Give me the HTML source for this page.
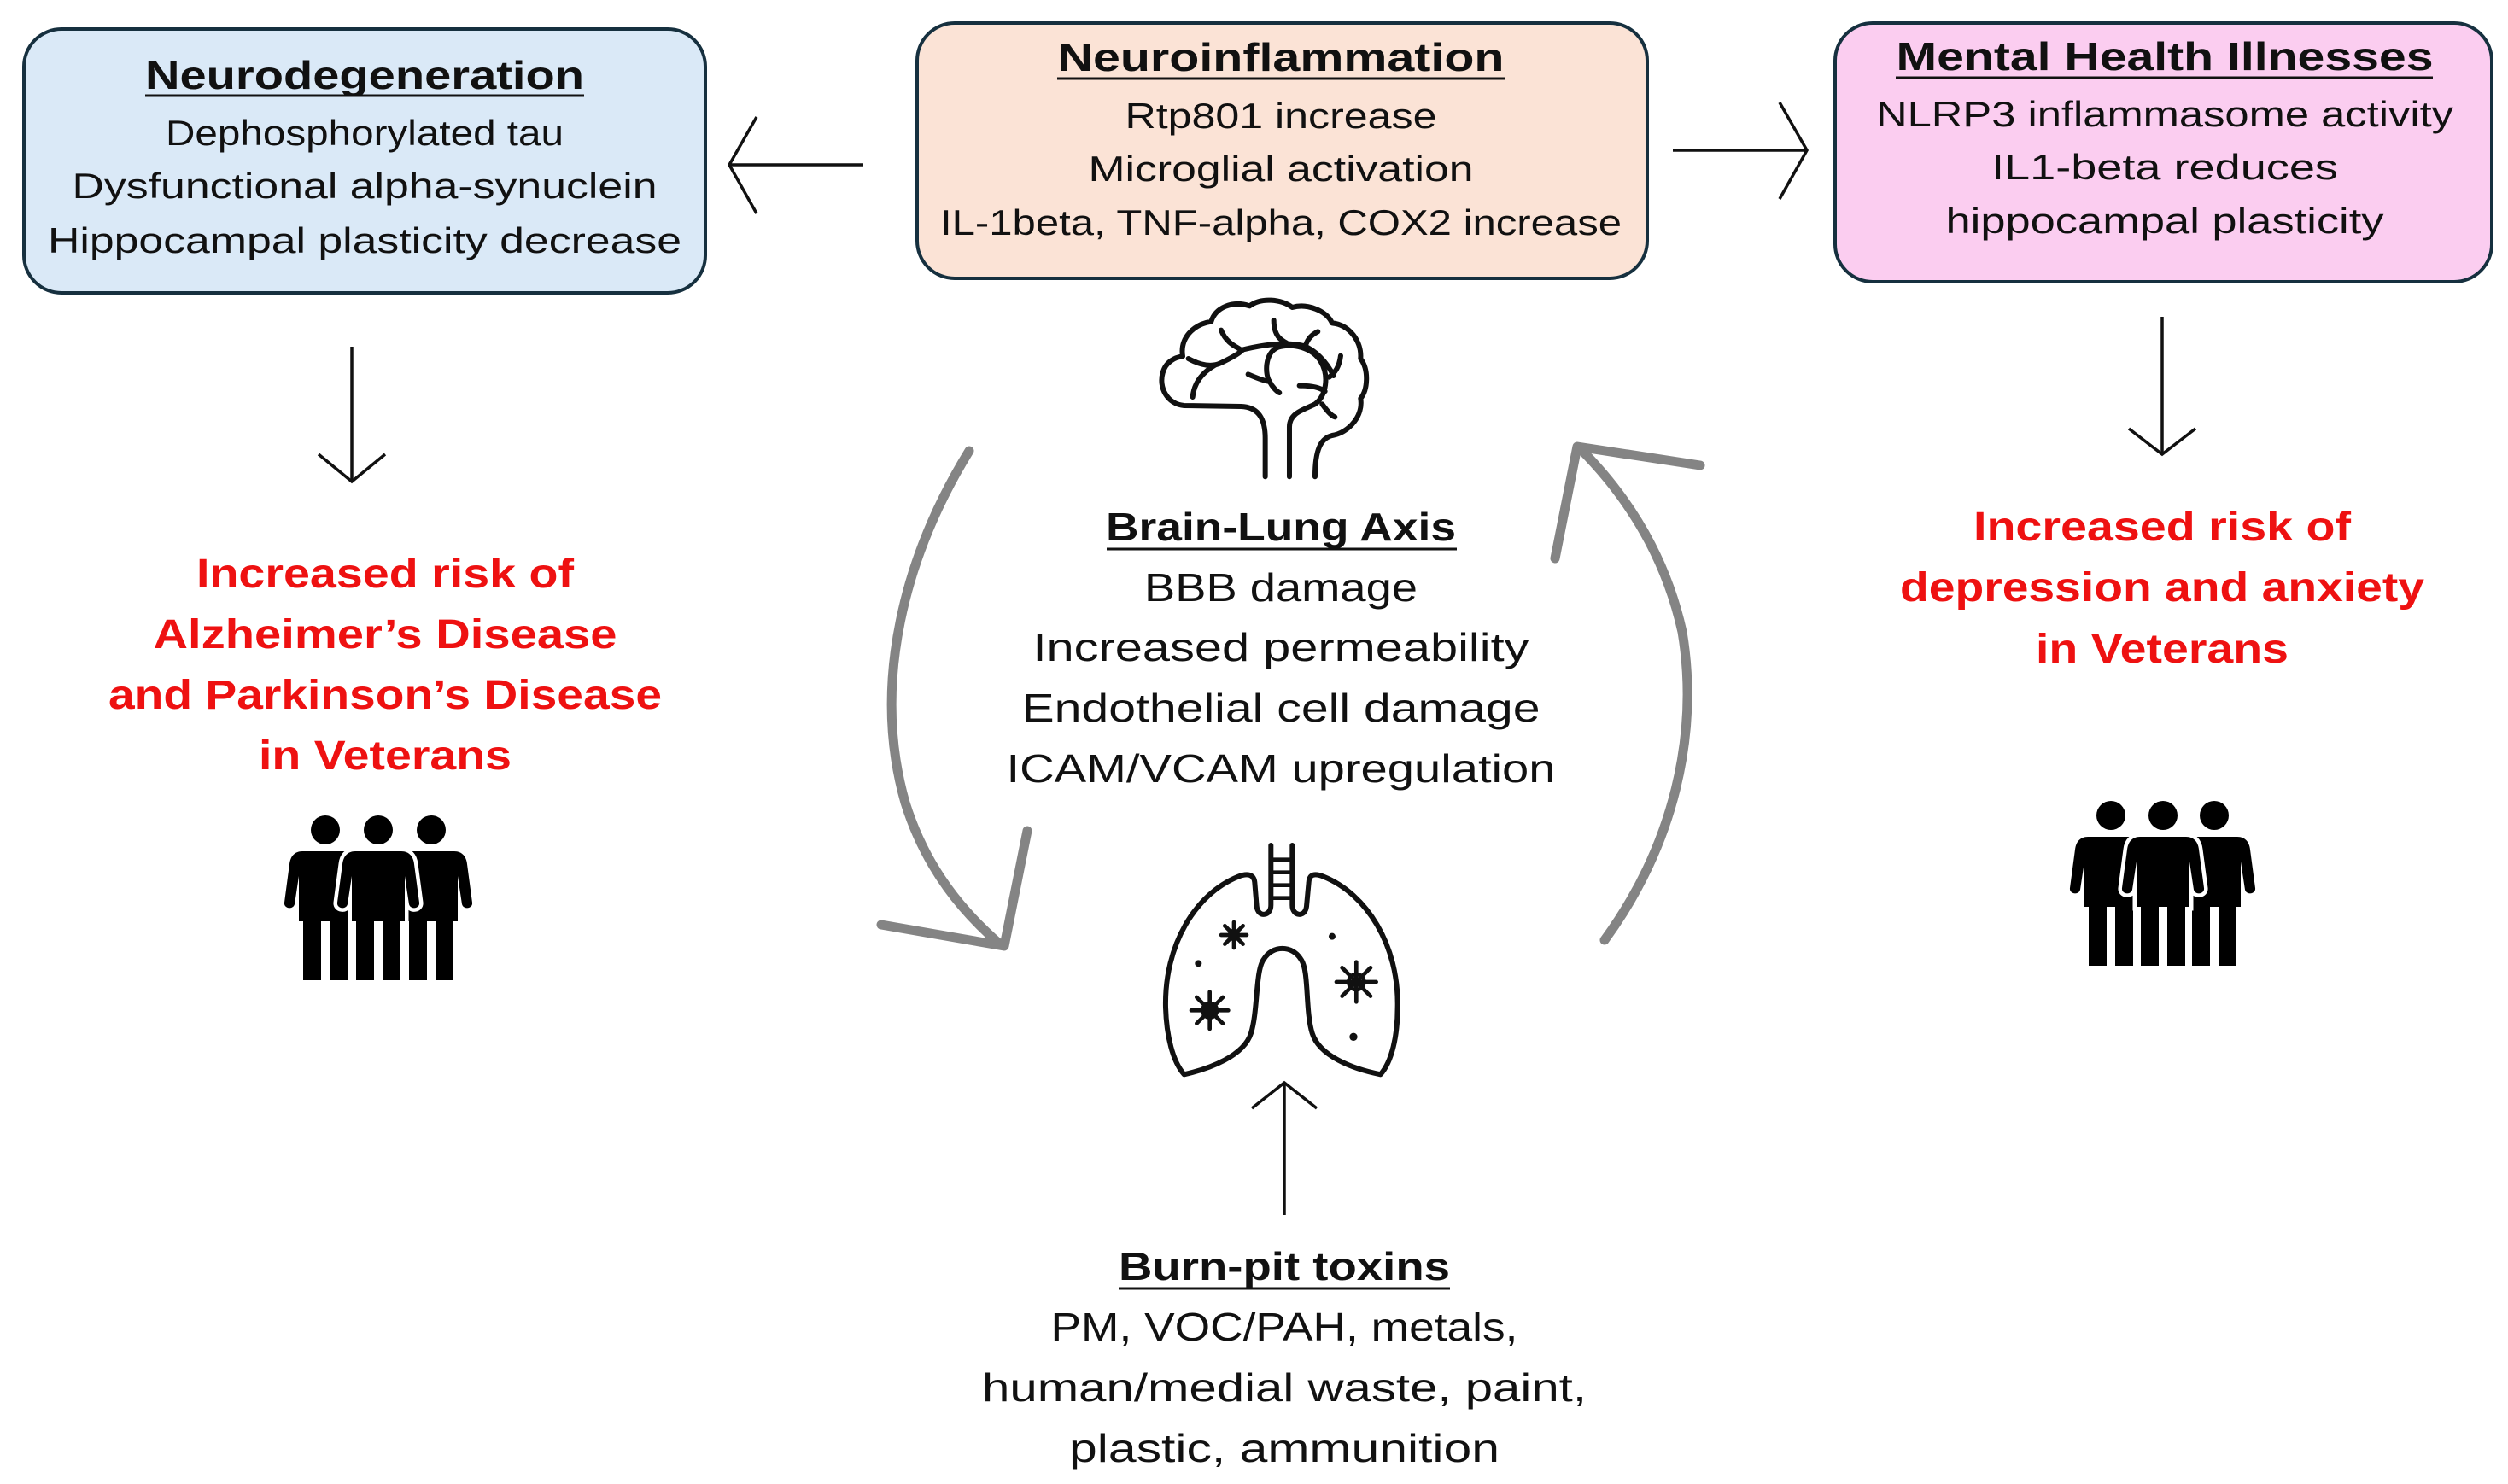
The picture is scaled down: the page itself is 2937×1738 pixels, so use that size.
<!DOCTYPE html>
<html><head><meta charset="utf-8"><style>html,body{margin:0;padding:0;background:#fff}svg{display:block}</style></head>
<body>
<svg width="2937" height="1738" viewBox="0 0 2937 1738" xmlns="http://www.w3.org/2000/svg" font-family="Liberation Sans, sans-serif">
<rect width="2937" height="1738" fill="#fff"/>
<!-- boxes -->
<rect x="28" y="34" width="798" height="309" rx="44" fill="#dae9f7" stroke="#16303f" stroke-width="4"/>
<rect x="1074" y="27" width="855" height="299" rx="44" fill="#fbe3d6" stroke="#16303f" stroke-width="4"/>
<rect x="2149" y="27" width="769" height="303" rx="44" fill="#fbcdf0" stroke="#16303f" stroke-width="4"/>

<g fill="#111" text-anchor="middle">
<text x="427" y="104" font-size="46" font-weight="bold" textLength="514" lengthAdjust="spacingAndGlyphs">Neurodegeneration</text>
<line x1="170" y1="112" x2="684" y2="112" stroke="#111" stroke-width="3"/>
<text x="427" y="170" font-size="42" textLength="466" lengthAdjust="spacingAndGlyphs">Dephosphorylated tau</text>
<text x="427" y="232" font-size="42" textLength="685" lengthAdjust="spacingAndGlyphs">Dysfunctional alpha-synuclein</text>
<text x="427" y="296" font-size="42" textLength="742" lengthAdjust="spacingAndGlyphs">Hippocampal plasticity decrease</text>

<text x="1500" y="83" font-size="46" font-weight="bold" textLength="523" lengthAdjust="spacingAndGlyphs">Neuroinflammation</text>
<line x1="1238" y1="92" x2="1762" y2="92" stroke="#111" stroke-width="3"/>
<text x="1500" y="150" font-size="42" textLength="365" lengthAdjust="spacingAndGlyphs">Rtp801 increase</text>
<text x="1500" y="212" font-size="42" textLength="451" lengthAdjust="spacingAndGlyphs">Microglial activation</text>
<text x="1500" y="275" font-size="42" textLength="798" lengthAdjust="spacingAndGlyphs">IL-1beta, TNF-alpha, COX2 increase</text>

<text x="2535" y="82" font-size="46" font-weight="bold" textLength="629" lengthAdjust="spacingAndGlyphs">Mental Health Illnesses</text>
<line x1="2220" y1="91" x2="2849" y2="91" stroke="#111" stroke-width="3"/>
<text x="2535" y="148" font-size="42" textLength="676" lengthAdjust="spacingAndGlyphs">NLRP3 inflammasome activity</text>
<text x="2535" y="210" font-size="42" textLength="406" lengthAdjust="spacingAndGlyphs">IL1-beta reduces</text>
<text x="2535" y="273" font-size="42" textLength="513" lengthAdjust="spacingAndGlyphs">hippocampal plasticity</text>

<text x="1500" y="633" font-size="46" font-weight="bold" textLength="410" lengthAdjust="spacingAndGlyphs">Brain-Lung Axis</text>
<line x1="1296" y1="643" x2="1706" y2="643" stroke="#111" stroke-width="3"/>
<text x="1500" y="704" font-size="46" textLength="320" lengthAdjust="spacingAndGlyphs">BBB damage</text>
<text x="1500" y="774" font-size="46" textLength="581" lengthAdjust="spacingAndGlyphs">Increased permeability</text>
<text x="1500" y="845" font-size="46" textLength="607" lengthAdjust="spacingAndGlyphs">Endothelial cell damage</text>
<text x="1500" y="916" font-size="46" textLength="643" lengthAdjust="spacingAndGlyphs">ICAM/VCAM upregulation</text>

<text x="1504" y="1499" font-size="46" font-weight="bold" textLength="388" lengthAdjust="spacingAndGlyphs">Burn-pit toxins</text>
<line x1="1310" y1="1509" x2="1698" y2="1509" stroke="#111" stroke-width="3"/>
<text x="1504" y="1570" font-size="46" textLength="547" lengthAdjust="spacingAndGlyphs">PM, VOC/PAH, metals,</text>
<text x="1504" y="1641" font-size="46" textLength="708" lengthAdjust="spacingAndGlyphs">human/medial waste, paint,</text>
<text x="1504" y="1712" font-size="46" textLength="504" lengthAdjust="spacingAndGlyphs">plastic, ammunition</text>
</g>
<g fill="#ee1111" text-anchor="middle" font-weight="bold" font-size="48">
<text x="451" y="688" textLength="442" lengthAdjust="spacingAndGlyphs">Increased risk of</text>
<text x="451" y="759" textLength="543" lengthAdjust="spacingAndGlyphs">Alzheimer’s Disease</text>
<text x="451" y="830" textLength="648" lengthAdjust="spacingAndGlyphs">and Parkinson’s Disease</text>
<text x="451" y="901" textLength="296" lengthAdjust="spacingAndGlyphs">in Veterans</text>
<text x="2532" y="633" textLength="442" lengthAdjust="spacingAndGlyphs">Increased risk of</text>
<text x="2532" y="704" textLength="614" lengthAdjust="spacingAndGlyphs">depression and anxiety</text>
<text x="2532" y="776" textLength="296" lengthAdjust="spacingAndGlyphs">in Veterans</text>
</g>

<!-- black arrows -->
<g stroke="#111" stroke-width="3.5" fill="none">
<line x1="1011" y1="193" x2="854" y2="193"/><polyline points="886,137 854,193 886,250"/>
<line x1="1959" y1="176" x2="2116" y2="176"/><polyline points="2084,120 2116,176 2084,233"/>
<line x1="412" y1="406" x2="412" y2="564"/><polyline points="373,532 412,564 451,532"/>
<line x1="2532" y1="371" x2="2532" y2="532"/><polyline points="2493,502 2532,532 2571,502"/>
<line x1="1504" y1="1423" x2="1504" y2="1268"/><polyline points="1466,1298 1504,1268 1542,1298"/>
</g>

<!-- gray cycle arrows -->
<g stroke="#848484" stroke-width="11" fill="none" stroke-linecap="round" stroke-linejoin="round">
<path d="M1135,528 C1060,650 1020,800 1060,940 C1085,1020 1130,1070 1170,1105"/>
<polyline points="1032,1083 1176,1108 1203,973"/>
<path d="M1879,1101 C1960,990 1990,860 1970,740 C1950,650 1905,580 1850,525"/>
<polyline points="1821,654 1847,523 1991,545"/>
</g>

<!-- brain -->
<g transform="translate(1340,340) scale(0.3333)" fill="none" stroke="#111" stroke-width="18" stroke-linecap="round" stroke-linejoin="round">
<path d="M425,655 V520 C425,450 400,410 340,408 L140,405 C80,400 50,340 65,290 C75,250 110,235 135,232 C125,170 170,120 235,110 C250,60 310,35 370,55 C410,25 480,30 520,60 C570,45 640,70 660,115 C720,120 765,180 760,240 C790,280 785,350 760,380 C770,440 720,500 660,510 C620,520 600,560 600,655"/>
<path d="M510,655 V480 C510,430 560,420 600,400 C640,370 650,300 620,250 C590,200 520,185 470,200 C420,220 425,300 440,320"/>
<path d="M270,140 C290,190 330,200 340,210 C420,190 500,180 560,195 C600,210 640,250 665,300"/>
<path d="M455,105 C455,160 480,175 500,185"/>
<path d="M610,145 C580,160 570,180 565,200"/>
<path d="M690,230 C685,270 670,290 650,305"/>
<path d="M155,240 C200,265 240,270 270,255 C300,240 330,225 345,210"/>
<path d="M170,375 C175,320 210,285 250,262"/>
<path d="M365,295 C400,310 430,320 440,320 C450,340 465,355 475,360"/>
<path d="M545,335 C580,335 615,340 635,355"/>
<path d="M625,400 C640,420 655,440 670,445"/>
</g>

<!-- lungs -->
<g transform="translate(1350,980) scale(0.3333)" fill="none" stroke="#111" stroke-width="18" stroke-linecap="round" stroke-linejoin="round">
<path d="M415,30 V240 C415,280 370,285 365,245 L358,160 C355,130 330,128 300,140 C150,200 40,380 45,600 C48,700 70,790 110,835 C200,815 320,770 345,690 C370,610 360,470 390,430 C420,380 490,380 520,430 C550,470 535,610 560,690 C585,770 700,815 800,835 C840,790 860,700 860,600 C865,380 750,200 600,140 C570,128 550,130 548,160 L540,245 C535,285 490,280 490,240 V30"/>
<path d="M415,80 H490 M415,125 H490 M415,170 H490 M415,215 H490" stroke-width="14"/>
<g stroke-width="14">
<circle cx="285" cy="345" r="15"/><path d="M285,300 V390 M240,345 H330 M253,313 L317,377 M317,313 L253,377"/>
<circle cx="200" cy="610" r="25"/><path d="M200,545 V675 M135,610 H265 M154,564 L246,656 M246,564 L154,656"/>
<circle cx="715" cy="510" r="27"/><path d="M715,440 V580 M645,510 H785 M665,460 L765,560 M765,460 L665,560"/>
</g>
<circle cx="160" cy="445" r="12" fill="#111" stroke="none"/>
<circle cx="630" cy="350" r="12" fill="#111" stroke="none"/>
<circle cx="705" cy="703" r="14" fill="#111" stroke="none"/>
</g>

<!-- people -->
<defs>
<g id="fig">
<circle cx="0" cy="0" r="17"/>
<path d="M-27,25 H27 C36,25 41,31 42,40 L48,85 C49,92 38,94 36,87 L31,54 V107 H-31 V54 L-36,87 C-38,94 -49,92 -48,85 L-42,40 C-41,31 -36,25 -27,25 Z"/>
<rect x="-26" y="100" width="21" height="76"/><rect x="5" y="100" width="21" height="76"/>
</g>
</defs>
<g fill="#000">
<use href="#fig" x="381" y="972"/><use href="#fig" x="505" y="972"/>
<use href="#fig" x="443" y="972" fill="#fff" stroke="#fff" stroke-width="9"/>
<use href="#fig" x="443" y="972"/>
<use href="#fig" x="2472" y="955"/><use href="#fig" x="2593" y="955"/>
<use href="#fig" x="2533" y="955" fill="#fff" stroke="#fff" stroke-width="9"/>
<use href="#fig" x="2533" y="955"/>
</g>
</svg>
</body></html>
